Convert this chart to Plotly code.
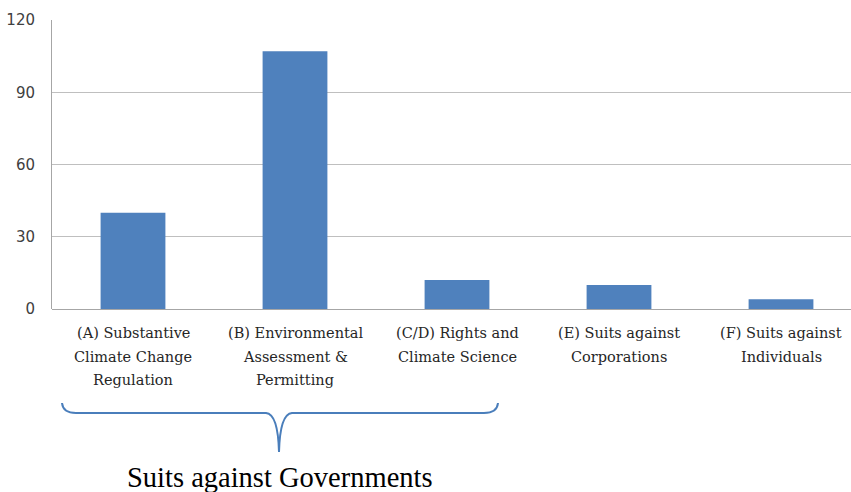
import plotly.graph_objects as go

categories = [
    "(A) Substantive<br>Climate Change<br>Regulation",
    "(B) Environmental<br>Assessment &<br>Permitting",
    "(C/D) Rights and<br>Climate Science",
    "(E) Suits against<br>Corporations",
    "(F) Suits against<br>Individuals",
]
values = [40, 107, 12, 10, 4]
y_ticks = [0, 30, 60, 90, 120]
group_label = "Suits against Governments"

W, H = 851, 492
L, R, T, B = 52, 0, 20, 183
pw = W - L - R
ph = H - T - B

def px(x):
    return (x - L) / pw

def py(y):
    return (H - B - y) / ph

fig = go.Figure()
x_idx = list(range(len(categories)))
fig.add_trace(go.Bar(
    x=x_idx, y=values, width=0.4,
    marker=dict(color="#4F81BD", line=dict(width=0)),
    hoverinfo="skip",
))

annotations = []
line_h = 23.5
for i, lab in enumerate(categories):
    for j, line in enumerate(lab.split("<br>")):
        annotations.append(dict(
            x=i, xref="x", y=0, yref="paper",
            text=line, showarrow=False,
            xanchor="center", yanchor="middle",
            yshift=-(24 + j * line_h),
            font=dict(family="DejaVu Serif", size=14.5, color="#262626"),
        ))

annotations.append(dict(
    x=px(280), xref="paper", y=py(478), yref="paper",
    text=group_label, showarrow=False, xanchor="center", yanchor="middle",
    font=dict(family="Liberation Serif", size=28.5, color="#000000"),
))

def P(x, y):
    return f"{px(x):.5f},{py(y):.5f}"

brace = (
    f"M {P(62,403)} Q {P(63,413)} {P(76,413)} L {P(266,413)} "
    f"Q {P(278,414)} {P(279,452)} Q {P(280,414)} {P(292,413)} "
    f"L {P(484,413)} Q {P(497,413)} {P(498,403)}"
)

fig.update_layout(
    width=W, height=H,
    margin=dict(l=L, r=R, t=T, b=B, pad=0),
    paper_bgcolor="white", plot_bgcolor="white",
    showlegend=False,
    bargap=0.6,
    xaxis=dict(
        range=[-0.5, -0.5 + pw / 162.0],
        showticklabels=False, showgrid=False, zeroline=False,
        showline=False, ticks="",
    ),
    yaxis=dict(
        range=[0, 120], tickvals=y_ticks,
        showgrid=True, gridcolor="#BFBFBF", gridwidth=1,
        zeroline=True, zerolinecolor="#A6A6A6", zerolinewidth=1,
        showline=True, linecolor="#A6A6A6", linewidth=1,
        ticks="", ticklabelstandoff=13,
        tickfont=dict(family="DejaVu Sans", size=15, color="#404040"),
    ),
    annotations=annotations,
    shapes=[dict(
        type="path", path=brace, xref="paper", yref="paper",
        line=dict(color="#4A7EBB", width=2), layer="above",
    )],
)

fig.write_html("out.html")
